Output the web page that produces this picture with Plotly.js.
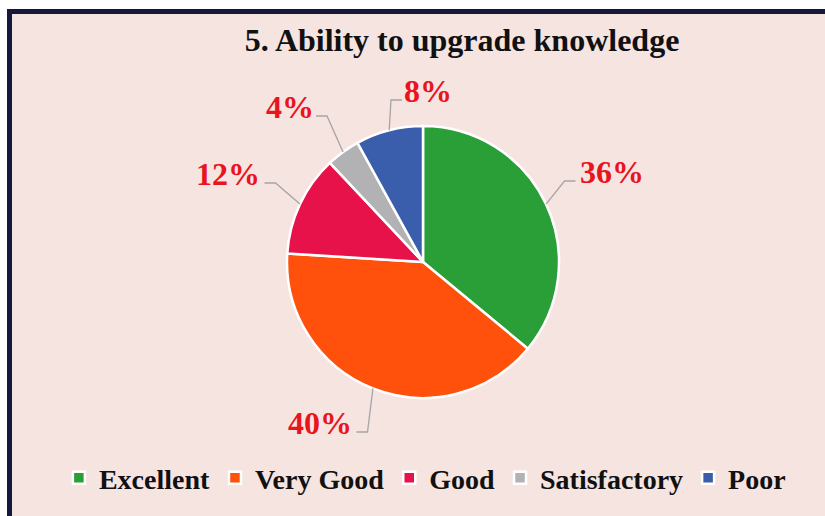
<!DOCTYPE html>
<html>
<head>
<meta charset="utf-8">
<script src="https://cdn.plot.ly/plotly-3.0.1.min.js"></script>
<style>html,body{margin:0;padding:0;background:#fff;overflow:hidden;}#chart{width:825px;height:516px;}</style>
</head>
<body>
<div id="chart"></div>
<script>
// ---- data ----
const categories = ["Excellent", "Very Good", "Good", "Satisfactory", "Poor"];
const values = [36, 40, 12, 4, 8];
const colors = ["#2a9f38", "#ff500c", "#e8124a", "#b2b1b4", "#3a5eab"];
// label centre offsets from pie centre, in px (layout only)
const labelOffsets = [[189, -90], [-103, 161], [-195, -88], [-133, -155], [5, -171]];

// ---- layout geometry ----
const W = 825, H = 516;
const cx = 423, cy = 262, R = 136;
const px = x => x / W, py = y => 1 - y / H;

const total = values.reduce((a, b) => a + b, 0);
const annotations = [];
const shapes = [
  {type: 'rect', xref: 'paper', yref: 'paper', layer: 'below',
   x0: px(9.5), x1: 1, y0: py(11.5), y1: 0,
   fillcolor: '#f6e4e1', line: {width: 0}},
  {type: 'line', xref: 'paper', yref: 'paper', layer: 'below',
   x0: px(7), x1: 1, y0: py(11.5), y1: py(11.5), line: {color: '#16183a', width: 5}},
  {type: 'line', xref: 'paper', yref: 'paper', layer: 'below',
   x0: px(9.5), x1: px(9.5), y0: py(9), y1: 0, line: {color: '#16183a', width: 5}}
];
let cum = 0;
values.forEach((v, i) => {
  const mid = (cum + v / 2) / total * 2 * Math.PI;
  cum += v;
  const P = [cx + R * Math.sin(mid), cy - R * Math.cos(mid)];
  const L = [cx + labelOffsets[i][0], cy + labelOffsets[i][1]];
  const text = Math.round(v / total * 100) + '%';
  const halfW = 10.5 * text.length;
  const right = L[0] > P[0];
  const ay = L[1] + 9;
  const A = [right ? L[0] - halfW - 5 : L[0] + halfW + 5, ay];
  const E = [right ? A[0] - 11 : A[0] + 11, ay];
  shapes.push({type: 'path', xref: 'paper', yref: 'paper',
    path: `M ${px(P[0])} ${py(P[1])} L ${px(E[0])} ${py(E[1])} L ${px(A[0])} ${py(A[1])}`,
    line: {color: '#a6a4a6', width: 1.3}});
  annotations.push({xref: 'paper', yref: 'paper', x: px(L[0]), y: py(L[1]),
    xanchor: 'center', yanchor: 'middle', showarrow: false, text: '<b>' + text + '</b>',
    font: {family: 'Liberation Serif, Times New Roman, serif', size: 32, color: '#e8141e'}});
});

const trace = {
  type: 'pie', labels: categories, values: values, sort: false, direction: 'clockwise',
  rotation: 0, textinfo: 'none', hoverinfo: 'label+percent',
  marker: {colors: colors, line: {color: '#ffffff', width: 2.5}},
  domain: {x: [px(cx - R), px(cx + R)], y: [py(cy + R), py(cy - R)]}
};

const layout = {
  width: W, height: H, margin: {l: 0, r: 0, t: 0, b: 0},
  paper_bgcolor: '#ffffff',
  title: {text: '<b>5. Ability to upgrade knowledge</b>', x: 0.56, xanchor: 'center', y: py(40), yanchor: 'middle',
          font: {family: 'Liberation Serif, Times New Roman, serif', size: 32, color: '#111111'}},
  showlegend: true,
  legend: {orientation: 'h', x: 0.515, xanchor: 'center', y: py(478), yanchor: 'middle',
           font: {family: 'Liberation Serif, Times New Roman, serif', size: 28, color: '#111111', weight: 'bold'},
           bgcolor: 'rgba(0,0,0,0)', itemwidth: 30, tracegroupgap: 0},
  shapes: shapes, annotations: annotations
};

Plotly.newPlot('chart', [trace], layout, {displayModeBar: false, staticPlot: true});
</script>
</body>
</html>
